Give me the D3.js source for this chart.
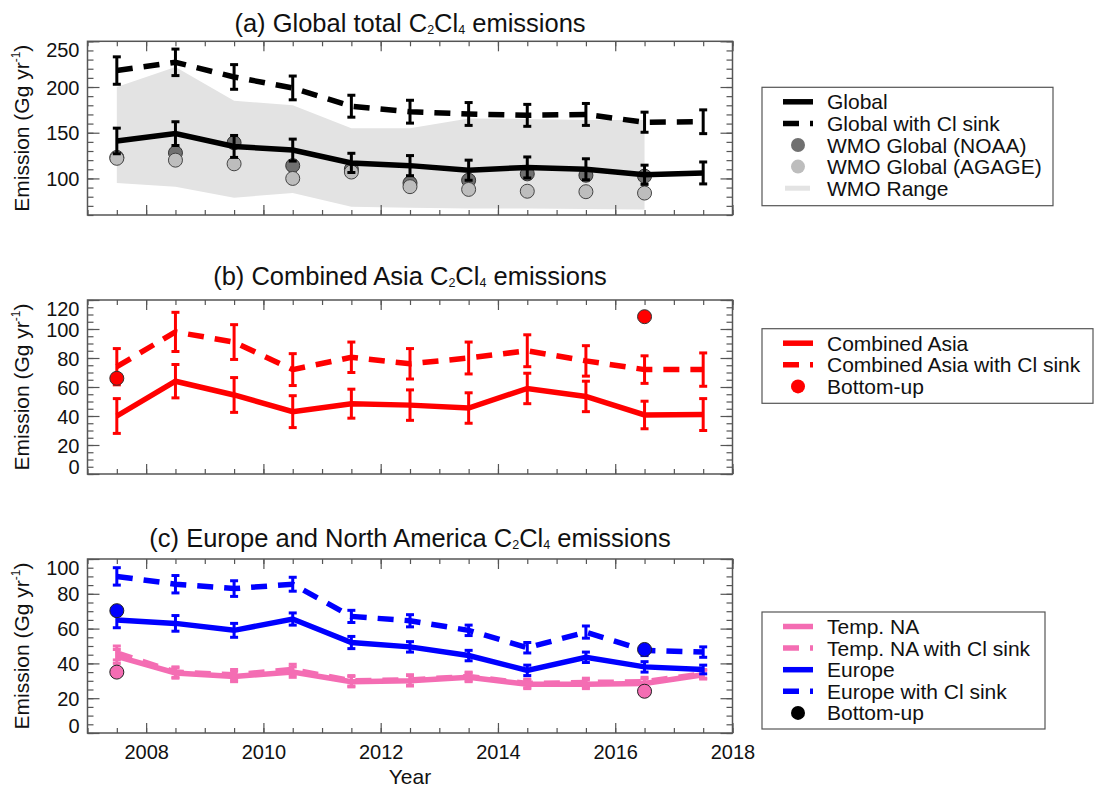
<!DOCTYPE html>
<html>
<head>
<meta charset="utf-8">
<script src="https://cdn.jsdelivr.net/npm/d3@7"></script>
<style>
  html, body { margin: 0; padding: 0; background: #fff; }
  svg { display: block; font-family: "Liberation Sans", Arial, Helvetica, sans-serif; }
</style>
</head>
<body>
<svg id="chart" width="1096" height="789"></svg>
<script>
// ---------------- DATA ----------------
const years = [2007.5, 2008.5, 2009.5, 2010.5, 2011.5, 2012.5, 2013.5, 2014.5, 2015.5, 2016.5, 2017.5];

// (a) Global
const globalMean   = [141, 149, 135, 131, 117, 114, 109, 112, 110, 104, 106];
const globalErr    = [14, 13, 12, 12, 10.5, 11, 11, 11.5, 11.5, 10.5, 12];
const globalCl     = [218, 227, 211, 199, 179, 173, 170.5, 169, 170, 161.5, 162];
const globalClErr  = [15, 14.5, 13.5, 13, 12, 12.5, 12.5, 12, 12, 11, 13];
const wmoYears     = [2007.5, 2008.5, 2009.5, 2010.5, 2011.5, 2012.5, 2013.5, 2014.5, 2015.5, 2016.5];
const wmoNOAA      = [123, 128, 139, 114, 110, 95, 98, 105, 103.5, 102.5];
const wmoAGAGE     = [122, 120, 116, 100, 107, 91, 88, 86, 85.5, 84];
const wmoUpper     = [200, 222, 185, 180, 155, 155, 165.5, 165, 164, 164];
const wmoLower     = [95, 91, 79, 84, 69, 68, 67, 67, 66.5, 66];

// (b) Combined Asia
const asiaMean     = [40, 64, 54.5, 43, 48.5, 47.5, 45.5, 59, 53.5, 40.7, 41];
const asiaErr      = [12, 11.5, 12, 11, 10, 10.5, 10.5, 10.5, 10.5, 9.5, 11];
const asiaCl       = [74, 98, 91, 72, 80.5, 76, 80, 85, 78, 72, 72];
const asiaClErr    = [12.5, 13.5, 12, 11, 10.5, 10.5, 11, 11, 10.5, 9.5, 11.5];
const buYears      = [2007.5, 2016.5];
const asiaBU       = [66, 108.5];

// (c) Europe and North America
const europeMean   = [65, 63, 59, 65.5, 52, 49.5, 44.5, 36, 43.5, 38, 36.5];
const europeErr    = [4.5, 4.5, 4, 3.5, 3.5, 3, 3, 3, 3, 3, 2.5];
const europeCl     = [90, 85.5, 83, 85.5, 67, 64.5, 59, 49, 58, 47.5, 46.5];
const europeClErr  = [5, 5, 4.5, 4, 3.5, 3.5, 3, 3, 3.5, 3, 3];
const europeBU     = [70.3, 48];
const tnaMean      = [44, 34.5, 32.5, 35, 29.5, 30, 32, 28, 28, 28.5, 33.5];
const tnaErr       = [4, 3, 3, 3, 3, 3, 2.5, 2.5, 2.5, 2.5, 2.5];
const tnaCl        = [46, 35, 33.5, 36.5, 30, 30.5, 32.5, 28.5, 29, 29.5, 34];
const tnaClErr     = [4, 3, 3, 3, 3, 3, 2.5, 2.5, 2.5, 2.5, 2.5];
const tnaBU        = [35, 24];

const xTickYears   = [2008, 2010, 2012, 2014, 2016, 2018];

// ---------------- STYLE / LAYOUT ----------------
const RED = "#ff0000", BLUE = "#0000ff", PINK = "#f46db3", BLACK = "#000000";
const FRAME = "#555555";
const X0 = 87.5, X1 = 732.5;
const DASH = "16,11";

const svg = d3.select("#chart");
const x = d3.scaleLinear().domain([2007, 2018]).range([X0, X1]);

function panel(cfg) {
  const g = svg.append("g");
  const y = d3.scaleLinear().domain(cfg.domain).range([cfg.bottom, cfg.top]);
  cfg.y = y; cfg.g = g;
  return cfg;
}

function stepTicks(d0, d1, step) {
  return d3.range(Math.ceil(d0 / step - 1e-9) * step, d1 + 1e-6, step);
}

function drawAxes(p, showXLabels) {
  const g = p.g, y = p.y;
  const minorY = stepTicks(p.domain[0], p.domain[1], p.minor);
  const majorY = stepTicks(p.domain[0], p.domain[1], p.major);
  const minorX = d3.range(2007, 2018.001, 0.5);
  // left
  g.append("g").attr("transform", `translate(${X0},0)`)
    .call(d3.axisLeft(y).tickValues(minorY).tickSize(-6).tickFormat(""))
    .call(s => s.select(".domain").remove());
  const left = g.append("g").attr("transform", `translate(${X0},0)`)
    .call(d3.axisLeft(y).tickValues(majorY).tickSize(-12).tickPadding(8).tickFormat(d3.format("d")))
    .call(s => s.select(".domain").remove());
  left.selectAll("text").attr("font-size", 20).attr("fill", "#111")
    .attr("font-family", "Liberation Sans, Arial, sans-serif")
    .attr("y", d => {
      const yy = y(d);
      const c = Math.min(Math.max(yy, p.top + 8), p.bottom - 8);
      return c - yy;
    }).attr("dy", "0.35em");
  // right
  g.append("g").attr("transform", `translate(${X1},0)`)
    .call(d3.axisRight(y).tickValues(minorY).tickSize(-6).tickFormat(""))
    .call(s => s.select(".domain").remove());
  g.append("g").attr("transform", `translate(${X1},0)`)
    .call(d3.axisRight(y).tickValues(majorY).tickSize(-12).tickFormat(""))
    .call(s => s.select(".domain").remove());
  // bottom
  g.append("g").attr("transform", `translate(0,${p.bottom})`)
    .call(d3.axisBottom(x).tickValues(minorX).tickSize(-5).tickFormat(""))
    .call(s => s.select(".domain").remove());
  const bot = g.append("g").attr("transform", `translate(0,${p.bottom})`)
    .call(d3.axisBottom(x).tickValues(xTickYears).tickSize(-10).tickPadding(12)
      .tickFormat(showXLabels ? d3.format("d") : ""))
    .call(s => s.select(".domain").remove());
  bot.selectAll("text").attr("font-size", 20).attr("fill", "#111")
    .attr("font-family", "Liberation Sans, Arial, sans-serif");
  // top
  g.append("g").attr("transform", `translate(0,${p.top})`)
    .call(d3.axisTop(x).tickValues(minorX).tickSize(-5).tickFormat(""))
    .call(s => s.select(".domain").remove());
  g.append("g").attr("transform", `translate(0,${p.top})`)
    .call(d3.axisTop(x).tickValues(xTickYears).tickSize(-10).tickFormat(""))
    .call(s => s.select(".domain").remove());
  g.selectAll(".tick line").attr("stroke", FRAME).attr("stroke-width", 1.2);
  // frame
  g.append("rect").attr("x", X0).attr("y", p.top).attr("width", X1 - X0).attr("height", p.bottom - p.top)
    .attr("fill", "none").attr("stroke", FRAME).attr("stroke-width", 1.5);

  // y label
  const cy = (p.top + p.bottom) / 2;
  const t = g.append("text").attr("transform", `translate(29,${cy}) rotate(-90)`)
    .attr("text-anchor", "middle").attr("font-size", 21).attr("fill", "#111");
  t.append("tspan").text("Emission (Gg yr");
  t.append("tspan").attr("font-size", 12).attr("dy", -9).text("-1");
  t.append("tspan").attr("dy", 9).text(")");

  // title
  const tt = g.append("text").attr("x", (X0 + X1) / 2).attr("y", p.titleY)
    .attr("text-anchor", "middle").attr("font-size", 25.5).attr("fill", "#111");
  tt.append("tspan").text(p.titlePre + "C");
  tt.append("tspan").attr("font-size", 12.5).attr("dy", 2).text("2");
  tt.append("tspan").attr("dy", -2).text("Cl");
  tt.append("tspan").attr("font-size", 12.5).attr("dy", 2).text("4");
  tt.append("tspan").attr("dy", -2).text(" emissions");
}

function drawSeries(p, vals, errs, color, dashed) {
  const g = p.g, y = p.y;
  const pts = years.map((yr, i) => ({ yr, v: vals[i], e: errs[i] }));
  const eb = g.append("g").attr("stroke", color).attr("stroke-width", 3).attr("fill", "none");
  pts.forEach(d => {
    eb.append("line").attr("x1", x(d.yr)).attr("x2", x(d.yr)).attr("y1", y(d.v - d.e)).attr("y2", y(d.v + d.e));
    eb.append("line").attr("x1", x(d.yr) - 4).attr("x2", x(d.yr) + 4).attr("y1", y(d.v - d.e)).attr("y2", y(d.v - d.e));
    eb.append("line").attr("x1", x(d.yr) - 4).attr("x2", x(d.yr) + 4).attr("y1", y(d.v + d.e)).attr("y2", y(d.v + d.e));
  });
  const line = d3.line().x(d => x(d.yr)).y(d => y(d.v));
  g.append("path").datum(pts).attr("d", line).attr("fill", "none").attr("stroke", color)
    .attr("stroke-width", 5.5).attr("stroke-dasharray", dashed ? DASH : null);
}

function drawDots(p, yrs, vals, fill, stroke) {
  p.g.append("g").selectAll("circle").data(yrs.map((yr, i) => ({ yr, v: vals[i] }))).join("circle")
    .attr("cx", d => x(d.yr)).attr("cy", d => p.y(d.v)).attr("r", 7)
    .attr("fill", fill).attr("stroke", stroke).attr("stroke-width", 1);
}

function legend(box, items) {
  const g = svg.append("g");
  g.append("rect").attr("x", box.x).attr("y", box.y).attr("width", box.w).attr("height", box.h)
    .attr("fill", "#fff").attr("stroke", "#555").attr("stroke-width", 1.2);
  items.forEach((it, i) => {
    const cy = box.y + 14.5 + i * 21.6;
    if (it.type === "line") {
      g.append("line").attr("x1", 783).attr("x2", 813).attr("y1", cy).attr("y2", cy)
        .attr("stroke", it.color).attr("stroke-width", 5.5).attr("stroke-dasharray", it.dashed ? DASH : null);
    } else if (it.type === "dot") {
      g.append("circle").attr("cx", 798).attr("cy", cy).attr("r", 7).attr("fill", it.color);
    } else if (it.type === "band") {
      g.append("rect").attr("x", 785).attr("y", cy - 2.5).attr("width", 25).attr("height", 5).attr("fill", it.color);
    }
    g.append("text").attr("x", 827).attr("y", cy).attr("dy", "0.36em").attr("font-size", 21)
      .attr("fill", "#111").text(it.label);
  });
}

// ---------------- PANEL A ----------------
const pa = panel({ domain: [60, 250], top: 41.3, bottom: 215, minor: 10, major: 50,
  titleY: 31.5, titlePre: "(a) Global total " });
{
  const band = wmoYears.map((yr, i) => ({ yr, lo: wmoLower[i], hi: wmoUpper[i] }));
  pa.g.append("path").datum(band)
    .attr("d", d3.area().x(d => x(d.yr)).y0(d => pa.y(d.lo)).y1(d => pa.y(d.hi)))
    .attr("fill", "#e3e3e3");
  drawDots(pa, wmoYears, wmoNOAA, "#707070", "#333");
  drawDots(pa, wmoYears, wmoAGAGE, "#bdbdbd", "#444");
  drawSeries(pa, globalCl, globalClErr, BLACK, true);
  drawSeries(pa, globalMean, globalErr, BLACK, false);
  drawAxes(pa, false);
}

// ---------------- PANEL B ----------------
const pb = panel({ domain: [0, 120], top: 300, bottom: 474, minor: 5, major: 20,
  titleY: 285, titlePre: "(b) Combined Asia " });
drawSeries(pb, asiaCl, asiaClErr, RED, true);
drawSeries(pb, asiaMean, asiaErr, RED, false);
drawDots(pb, buYears, asiaBU, RED, "#333");
drawAxes(pb, false);

// ---------------- PANEL C ----------------
const pc = panel({ domain: [0, 100], top: 559, bottom: 733, minor: 5, major: 20,
  titleY: 547, titlePre: "(c) Europe and North America " });
drawSeries(pc, tnaMean, tnaErr, PINK, false);
drawSeries(pc, tnaCl, tnaClErr, PINK, true);
drawSeries(pc, europeMean, europeErr, BLUE, false);
drawSeries(pc, europeCl, europeClErr, BLUE, true);
drawDots(pc, buYears, europeBU, BLUE, "#222");
drawDots(pc, buYears, tnaBU, PINK, "#222");
drawAxes(pc, true);
svg.append("text").attr("x", (X0 + X1) / 2).attr("y", 784).attr("text-anchor", "middle")
  .attr("font-size", 21).attr("fill", "#111").text("Year");

// ---------------- LEGENDS ----------------
legend({ x: 762, y: 87.3, w: 291, h: 118.4 }, [
  { type: "line", color: BLACK, label: "Global" },
  { type: "line", color: BLACK, dashed: true, label: "Global with Cl sink" },
  { type: "dot", color: "#707070", label: "WMO Global (NOAA)" },
  { type: "dot", color: "#bdbdbd", label: "WMO Global (AGAGE)" },
  { type: "band", color: "#e3e3e3", label: "WMO Range" }
]);
legend({ x: 762, y: 328.7, w: 331, h: 74.6 }, [
  { type: "line", color: RED, label: "Combined Asia" },
  { type: "line", color: RED, dashed: true, label: "Combined Asia with Cl sink" },
  { type: "dot", color: RED, label: "Bottom-up" }
]);
legend({ x: 762, y: 612, w: 283, h: 117 }, [
  { type: "line", color: PINK, label: "Temp. NA" },
  { type: "line", color: PINK, dashed: true, label: "Temp. NA with Cl sink" },
  { type: "line", color: BLUE, label: "Europe" },
  { type: "line", color: BLUE, dashed: true, label: "Europe with Cl sink" },
  { type: "dot", color: BLACK, label: "Bottom-up" }
]);
</script>
</body>
</html>
